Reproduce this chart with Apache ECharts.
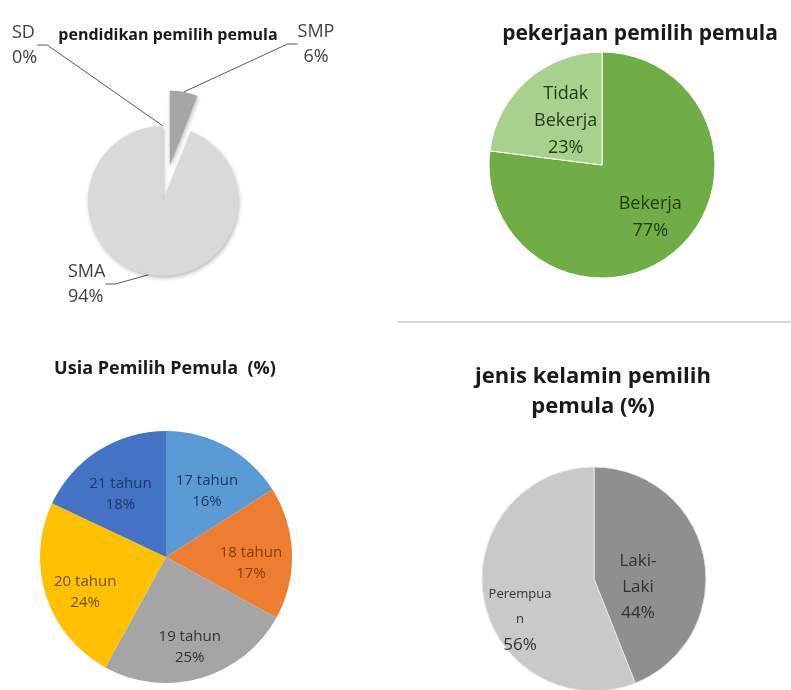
<!DOCTYPE html>
<html>
<head>
<meta charset="utf-8">
<script src="https://cdn.jsdelivr.net/npm/echarts@6/dist/echarts.min.js"></script>
<style>
html,body{margin:0;padding:0;background:#fff;}
#main{width:791px;height:690px;}
</style>
</head>
<body>
<div id="main"></div>
<script>
// ---- data ----
const eduCategories = ['SD', 'SMP', 'SMA'];
const eduValues = [0, 6, 94];
const jobCategories = ['Bekerja', 'Tidak\nBekerja'];
const jobValues = [77, 23];
const ageCategories = ['17 tahun', '18 tahun', '19 tahun', '20 tahun', '21 tahun'];
const ageValues = [16, 17, 25, 24, 18];
const genderCategories = ['Laki-\nLaki', 'Perempua\nn'];
const genderValues = [44, 56];
const titles = ['pendidikan pemilih pemula', 'pekerjaan pemilih pemula', 'Usia Pemilih Pemula  (%)', 'jenis kelamin pemilih\npemula (%)'];

const FONT = '"Open Sans", "Noto Sans", sans-serif';

const eduColors = ['#bfbfbf', '#a6a6a6', '#d9d9d9'];
const jobColors = ['#70ad47', '#a9d18e'];
const jobText = ['#1e3b12', '#1e3b12'];
const ageColors = ['#5b9bd5', '#ed7d31', '#a5a5a5', '#ffc000', '#4472c4'];
const ageText = ['#1f3864', '#843c0c', '#333333', '#6b5000', '#1f3864'];
const genderColors = ['#8f8f8f', '#c9c9c9'];

const chart = echarts.init(document.getElementById('main'));

// layout helpers
const eduCenter = [163, 201];
const explodeDist = 36;
const eduSum = eduValues.reduce((a, b) => a + b, 0);
const smpMid = (eduValues[0] + eduValues[1] / 2) / eduSum * 2 * Math.PI;
const eduExplodedCenter = [eduCenter[0] + explodeDist * Math.sin(smpMid), eduCenter[1] - explodeDist * Math.cos(smpMid)];
// label anchors (relative to pie centre) and alignment
const eduLabelPos = [[-151, -156, 'left'], [153, -157, 'center'], [-95, 83, 'left']];
const jobLabelShift = [[0, -2], [12, 11]];
const ageLabelShift = [0, 9];
const genderLabelShift = [[-14, 19], [-16, 30]];

const eduLabel = { show: true, position: 'outside', formatter: '{b}\n{c}%', fontFamily: FONT, fontSize: 18,
  color: '#404040', lineHeight: 25 };
const eduLabelLine = { show: true, length: 15, length2: 10, lineStyle: { color: '#595959', width: 1 } };
const eduShadow = { shadowBlur: 4, shadowColor: 'rgba(0,0,0,0.28)', shadowOffsetX: 1, shadowOffsetY: 2 };
const hidden = 'rgba(0,0,0,0)';
function eduLayout(p) {
  const d = eduLabelPos[p.dataIndex];
  return { x: eduCenter[0] + d[0], y: eduCenter[1] + d[1], align: d[2], verticalAlign: 'middle' };
}

const option = {
  backgroundColor: '#ffffff',
  animation: false,
  title: [
    { text: titles[0], left: 168, top: 27, textAlign: 'center', padding: 0,
      textStyle: { fontFamily: FONT, fontSize: 16, fontWeight: 'bold', color: '#1a1a1a' } },
    { text: titles[1], left: 640, top: 24, textAlign: 'center', padding: 0,
      textStyle: { fontFamily: FONT, fontSize: 21, fontWeight: 'bold', color: '#1a1a1a' } },
    { text: titles[2], left: 165, top: 360, textAlign: 'center', padding: 0,
      textStyle: { fontFamily: FONT, fontSize: 18, fontWeight: 'bold', color: '#1a1a1a' } },
    { text: titles[3], left: 593, top: 362, textAlign: 'center', padding: 0,
      textStyle: { fontFamily: FONT, fontSize: 22, fontWeight: 'bold', color: '#1a1a1a', lineHeight: 30 } }
  ],
  graphic: [
    { type: 'line', shape: { x1: 398, y1: 322, x2: 791, y2: 322 }, style: { stroke: '#d6d6d6', lineWidth: 2 }, silent: true }
  ],
  series: [
    // 1. pendidikan: main pie (SD, SMA)
    {
      type: 'pie', center: eduCenter, radius: 75, startAngle: 90, silent: true, avoidLabelOverlap: false,
      data: eduCategories.map((c, i) => i === 1
        ? { name: c, value: eduValues[i], itemStyle: { color: hidden }, label: { show: false }, labelLine: { show: false } }
        : { name: c, value: eduValues[i], itemStyle: Object.assign({ color: eduColors[i] }, i === 2 ? eduShadow : {}) }),
      label: eduLabel, labelLine: eduLabelLine, labelLayout: eduLayout
    },
    // 1b. pendidikan: exploded SMP slice
    {
      type: 'pie', center: eduExplodedCenter, radius: 75, startAngle: 90, silent: true, avoidLabelOverlap: false,
      data: eduCategories.map((c, i) => i === 1
        ? { name: c, value: eduValues[i], itemStyle: Object.assign({ color: eduColors[i] }, eduShadow) }
        : { name: c, value: eduValues[i], itemStyle: { color: hidden }, label: { show: false }, labelLine: { show: false } }),
      label: eduLabel, labelLine: eduLabelLine, labelLayout: eduLayout
    },
    // 2. pekerjaan
    {
      type: 'pie', center: [602, 165], radius: 113, startAngle: 90, silent: true,
      data: jobCategories.map((c, i) => ({ name: c, value: jobValues[i], itemStyle: { color: jobColors[i] } })),
      itemStyle: { borderColor: '#ffffff', borderWidth: 1 },
      label: { show: false }, labelLine: { show: false }
    },
    {
      type: 'pie', center: [602, 165], radius: [27, 113], startAngle: 90, silent: true,
      data: jobCategories.map((c, i) => ({ name: c, value: jobValues[i],
        itemStyle: { color: hidden }, label: { color: jobText[i] } })),
      label: { show: true, position: 'inside', formatter: '{b}\n{c}%', fontFamily: FONT, fontSize: 18, lineHeight: 27 },
      labelLine: { show: false },
      labelLayout: function (p) { const s = jobLabelShift[p.dataIndex]; return { dx: s[0], dy: s[1] }; }
    },
    // 3. usia
    {
      type: 'pie', center: [166, 557], radius: 126, startAngle: 90, silent: true,
      data: ageCategories.map((c, i) => ({ name: c, value: ageValues[i], itemStyle: { color: ageColors[i] } })),
      itemStyle: { borderWidth: 0 },
      label: { show: false }, labelLine: { show: false }
    },
    {
      type: 'pie', center: [166, 557], radius: [38, 126], startAngle: 90, silent: true,
      data: ageCategories.map((c, i) => ({ name: c, value: ageValues[i],
        itemStyle: { color: hidden }, label: { color: ageText[i] } })),
      label: { show: true, position: 'inside', formatter: '{b}\n{c}%', fontFamily: FONT, fontSize: 15, lineHeight: 21 },
      labelLine: { show: false },
      labelLayout: function () { return { dx: ageLabelShift[0], dy: ageLabelShift[1] }; }
    },
    // 4. jenis kelamin
    {
      type: 'pie', center: [594, 579], radius: 112, startAngle: 90, silent: true,
      data: genderCategories.map((c, i) => ({ name: c, value: genderValues[i], itemStyle: { color: genderColors[i] } })),
      itemStyle: { borderColor: '#e6e6e6', borderWidth: 1 },
      label: {
        show: true, position: 'inside', fontFamily: FONT, color: '#333333',
        formatter: function (p) {
          if (p.dataIndex === 0) return '{big|' + p.name.replace('\n', '}\n{big|') + '}\n{big|' + p.value + '%}';
          return '{small|' + p.name.replace('\n', '}\n{small|') + '}\n{big|' + p.value + '%}';
        },
        rich: {
          big: { fontFamily: FONT, fontSize: 17, lineHeight: 26, color: '#333333' },
          small: { fontFamily: FONT, fontSize: 13, lineHeight: 25, color: '#333333' }
        }
      },
      labelLine: { show: false },
      labelLayout: function (p) {
        const s = genderLabelShift[p.dataIndex];
        return { dx: s[0], dy: s[1] };
      }
    }
  ]
};
chart.setOption(option);
</script>
</body>
</html>
